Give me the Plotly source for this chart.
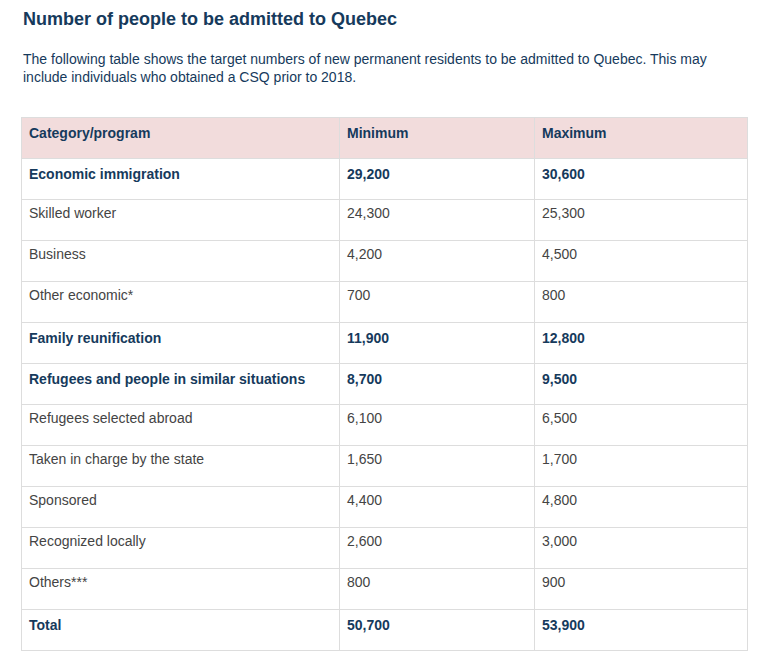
import plotly.graph_objects as go

categories = ["Economic immigration", "Skilled worker", "Business", "Other economic*",
              "Family reunification", "Refugees and people in similar situations",
              "Refugees selected abroad", "Taken in charge by the state", "Sponsored",
              "Recognized locally", "Others***", "Total"]
minimum = ["29,200", "24,300", "4,200", "700", "11,900", "8,700", "6,100", "1,650",
           "4,400", "2,600", "800", "50,700"]
maximum = ["30,600", "25,300", "4,500", "800", "12,800", "9,500", "6,500", "1,700",
           "4,800", "3,000", "900", "53,900"]
bold_rows = [True, False, False, False, True, True, False, False, False, False, False, True]

navy = "#163a5c"
grey = "#444444"

def fmt(vals):
    return ["<b>%s</b>" % v if b else v for v, b in zip(vals, bold_rows)]

row_colors = [navy if b else grey for b in bold_rows]

W, H = 769, 655
# page offset seen in render: ~9px right, ~8px down
dx, dy = 9, 8
fig = go.Figure(go.Table(
    domain=dict(x=[(22 - dx) / W, (748 - dx) / W], y=[0.0, 1 - (117 - dy) / H]),
    columnwidth=[318, 195, 213],
    header=dict(values=["<b>Category/program</b>", "<b>Minimum</b>", "<b>Maximum</b>"],
                fill_color="#f2dcdc", line_color="#dddddd", align="left", height=41,
                font=dict(family="Liberation Sans, Arial", size=14, color=navy)),
    cells=dict(values=[fmt(categories), fmt(minimum), fmt(maximum)],
               fill_color="white", line_color="#dddddd", align="left", height=41,
               font=dict(family="Liberation Sans, Arial", size=14, color=[row_colors] * 3)),
))

fig.add_annotation(x=(22 - dx) / W, y=1 - (19 - dy) / H, xref="paper", yref="paper", xanchor="left", yanchor="middle",
                   text="<b>Number of people to be admitted to Quebec</b>", showarrow=False,
                   font=dict(family="Liberation Sans, Arial", size=18, color=navy))
fig.add_annotation(x=(22 - dx) / W, y=1 - (68 - dy) / H, xref="paper", yref="paper", xanchor="left", yanchor="middle",
                   align="left", showarrow=False,
                   text="The following table shows the target numbers of new permanent residents to be admitted to Quebec. This may<br>include individuals who obtained a CSQ prior to 2018.",
                   font=dict(family="Liberation Sans, Arial", size=14, color=navy))

fig.update_layout(width=W, height=H, margin=dict(l=0, r=0, t=0, b=0),
                  paper_bgcolor="white", plot_bgcolor="white")
fig.write_html("out.html")
